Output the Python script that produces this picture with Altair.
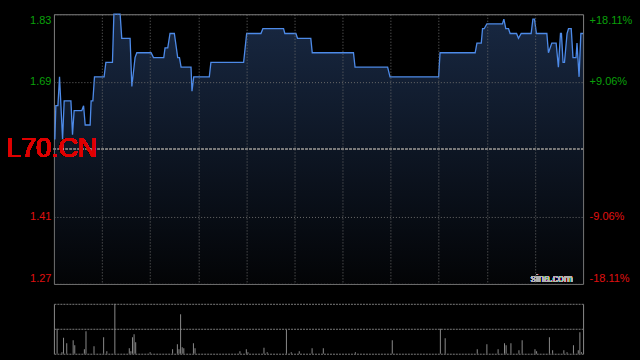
import altair as alt
import pandas as pd

# ---------------- data ----------------
symbol = "L70.CN"
watermark = "sina.com"
base_price = 1.55

# intraday price breakpoints (minute index, price)
price_t = [0.6, 1.2, 2.5, 3.5, 5.4, 6.4, 10.6, 11.6, 12.6, 17.4,
           18.5, 19.5, 22.6, 23.2, 24.3, 25.3, 31.3, 32.4, 36.5, 37.4,
           41.3, 42.3, 47.5, 48.6, 50.6, 51.7, 60.6, 62.1, 68.5, 69.3,
           71.0, 72.4, 75.1, 77.2, 78.3, 79.3, 85.5, 86.1, 87.2, 96.9,
           97.9, 118.3, 120.2, 129.1, 130.3, 143.2, 144.0, 150.9, 151.9, 160.2,
           161.1, 186.8, 187.8, 208.1, 209.6, 239.9, 240.8, 262.7, 263.8, 266.5,
           267.3, 268.3, 270.0, 279.7, 280.6, 281.8, 283.5, 284.5, 288.5, 289.7,
           291.4, 297.6, 298.7, 299.7, 300.9, 307.4, 308.4, 310.5, 313.2, 314.6,
           315.9, 316.5, 317.5, 318.4, 320.0, 320.9, 322.6, 323.7, 325.6, 326.2,
           327.5, 328.6, 330.0]
price_v = [1.57, 1.64, 1.64, 1.70, 1.57, 1.65, 1.65, 1.58, 1.63, 1.63,
           1.64, 1.60, 1.60, 1.65, 1.65, 1.70, 1.70, 1.73, 1.73, 1.83,
           1.83, 1.78, 1.78, 1.68, 1.74, 1.75, 1.75, 1.74, 1.74, 1.76,
           1.76, 1.79, 1.79, 1.74, 1.74, 1.72, 1.72, 1.67, 1.70, 1.70,
           1.73, 1.73, 1.79, 1.79, 1.80, 1.80, 1.79, 1.79, 1.78, 1.78,
           1.75, 1.75, 1.72, 1.72, 1.70, 1.70, 1.75, 1.75, 1.77, 1.77,
           1.80, 1.80, 1.81, 1.81, 1.82, 1.80, 1.80, 1.79, 1.79, 1.78,
           1.79, 1.79, 1.82, 1.82, 1.79, 1.79, 1.75, 1.77, 1.77, 1.72,
           1.79, 1.79, 1.73, 1.73, 1.79, 1.80, 1.80, 1.74, 1.74, 1.77,
           1.70, 1.79, 1.79]

# volume bars (minute index, relative volume)
vol_t = [2, 5, 6, 8, 12, 13, 19, 20, 25, 31, 33, 38, 47, 48, 49, 50, 51, 60,
         74, 77, 78, 79, 80, 81, 87, 88, 116, 120, 121, 131, 133, 145, 148, 153,
         161, 168, 188, 211, 241, 244, 264, 270, 277, 281, 282, 285, 290, 292,
         300, 301, 309, 311, 318, 320, 324, 327, 328, 329]
vol_v = [50, 3, 32, 21, 27, 17, 9, 45, 15, 33, 5, 100, 11, 5, 33, 39, 23, 3,
         9, 19, 9, 79, 13, 11, 21, 11, 5, 9, 3, 12, 3, 48, 3, 5,
         11, 11, 3, 27, 50, 31, 9, 19, 9, 21, 17, 21, 7, 27,
         9, 5, 33, 7, 7, 3, 17, 7, 43, 3]

y_ticks = [1.27, 1.41, 1.55, 1.69, 1.83]
left_labels = ["1.27", "1.41", "", "1.69", "1.83"]
right_labels = ["-18.11%", "-9.06%", "", "+9.06%", "+18.11%"]
x_grid = [30, 60, 90, 120, 150, 180, 210, 240, 270, 300]
x_domain = [0, 330]
vol_grid = [0, 50, 100]

# ---------------- helpers ----------------
GREEN = "#0aa00a"
RED = "#e01010"
FONT = "Liberation Sans"


def label_expr(vals, labels):
    expr = "''"
    for v, l in zip(vals, labels):
        expr = f"abs(datum.value - {v}) < 0.001 ? '{l}' : ({expr})"
    return expr


label_color = {"condition": {"test": f"datum.value > {base_price} + 0.001", "value": GREEN},
               "value": RED}
grid_opacity = {"condition": {"test": f"abs(datum.value - {base_price}) < 0.001", "value": 0},
                "value": 1}

price_df = pd.DataFrame({"t": price_t, "p": price_v})
vol_df = pd.DataFrame({"t": vol_t, "v": vol_v})

xscale = alt.Scale(domain=x_domain, nice=False, zero=False)
yscale = alt.Scale(domain=[y_ticks[0], y_ticks[-1]], nice=False, zero=False)

grad = alt.Gradient(
    gradient="linear",
    stops=[alt.GradientStop(color="#182842", offset=0),
           alt.GradientStop(color="#030406", offset=1)],
    x1=1, x2=1, y1=0, y2=1,
)

area = alt.Chart(price_df).mark_area(color=grad).encode(
    x=alt.X("t:Q", scale=xscale,
            axis=alt.Axis(values=x_grid, grid=True, gridColor="#6a6a6a", gridDash=[1, 2],
                          labels=False, ticks=False, domain=False, title=None, zindex=1)),
    y=alt.Y("p:Q", scale=yscale,
            axis=alt.Axis(values=y_ticks, orient="left", grid=True,
                          gridColor="#6a6a6a", gridDash=[1, 2], gridOpacity=grid_opacity,
                          labelExpr=label_expr(y_ticks, left_labels),
                          labelColor=label_color, labelFont=FONT, labelFontSize=11,
                          labelPadding=3, labelFlush=True, ticks=False, domain=False,
                          title=None, zindex=1)),
    y2=alt.Y2(datum=y_ticks[0]),
)

mid = alt.Chart(price_df).mark_rule(color="#7c7c7c", strokeDash=[2, 2], strokeWidth=1).encode(
    y=alt.Y(datum=base_price, scale=yscale, axis=None),
)

line = alt.Chart(price_df).mark_line(color="#4d8ae8", strokeWidth=1.3).encode(
    x=alt.X("t:Q", scale=xscale, axis=None),
    y=alt.Y("p:Q", scale=yscale,
            axis=alt.Axis(values=y_ticks, orient="right", grid=False,
                          labelExpr=label_expr(y_ticks, right_labels),
                          labelColor=label_color, labelFont=FONT, labelFontSize=11,
                          labelPadding=6, labelFlush=True, ticks=False, domain=False,
                          title=None)),
)

sym = alt.Chart(price_df).mark_text(
    text=symbol, color="#e00000", fontSize=27, font=FONT, align="left", baseline="middle"
).encode(
    x=alt.value(-48),
    y=alt.Y(datum=base_price, scale=yscale, axis=None),
)

wm = alt.Chart(price_df).mark_text(
    text=watermark, color="#b4b4b4", fontSize=10.5, font=FONT, align="right", baseline="alphabetic"
).encode(
    x=alt.value(519.5),
    y=alt.value(268.5),
)

main = alt.layer(area, mid, line, sym, wm).resolve_axis(
    x="independent", y="independent"
).properties(
    width=530, height=270,
    view=alt.ViewBackground(stroke="#808080", strokeWidth=1),
)

bars = alt.Chart(vol_df).mark_rule(color="#8a8a8a", strokeWidth=1).encode(
    x=alt.X("t:Q", scale=xscale,
            axis=alt.Axis(values=x_domain, grid=True, gridColor="#8a8a8a",
                          labels=False, ticks=False, domain=False, title=None)),
    y=alt.Y("v:Q", scale=alt.Scale(domain=[0, 100], nice=False),
            axis=alt.Axis(values=vol_grid, grid=True, gridColor="#7a7a7a", gridDash=[2, 1],
                          labels=False, ticks=False, domain=False, title=None)),
    y2=alt.Y2(datum=0),
)

vol = alt.layer(bars).properties(width=530, height=50)

chart = alt.vconcat(main, vol, spacing=20, bounds="flush").properties(
    padding={"left": 5, "top": 10, "right": 7, "bottom": 6},
    autosize=alt.AutoSizeParams(type="pad"),
).configure(
    background="#000000",
).configure_view(
    stroke="transparent",
)

chart.save("out.html", embed_options={"renderer": "svg", "actions": False})
